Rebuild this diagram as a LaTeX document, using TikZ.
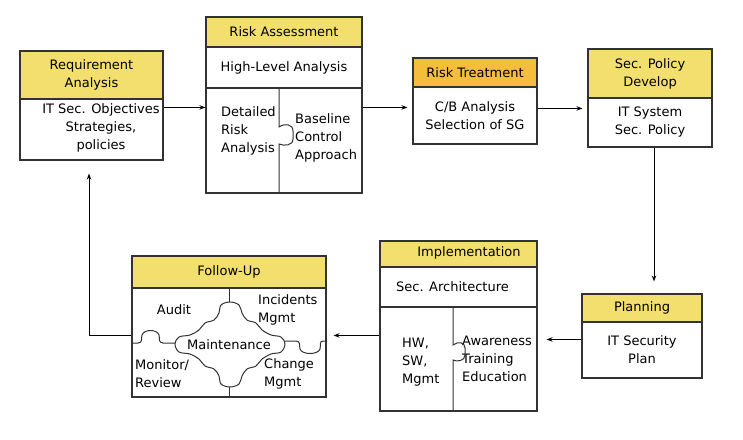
\documentclass[tikz,border=0pt]{standalone}
\usepackage{fontspec}
\setmainfont{DejaVu Sans}
\usepackage{xcolor}
\usepackage{tikz}
\usetikzlibrary{arrows.meta}
\definecolor{headyellow}{RGB}{243,223,110}
\definecolor{headorange}{RGB}{244,190,60}
\definecolor{linegray}{RGB}{50,50,50}

\begin{document}
\begin{tikzpicture}[
      x=1pt, y=-1pt,
      every node/.style={font=\fontsize{13}{18}\selectfont},
      cell/.style={draw=linegray, line width=1.1pt, inner sep=0pt, align=center},
      headcell/.style={cell, fill=headyellow},
      label/.style={inner sep=0pt, align=left, anchor=west},
      puz/.style={draw=linegray, line width=1pt},
      arr/.style={draw=black, line width=1pt, -{Stealth[length=6pt,width=4.5pt]}}]
    \useasboundingbox (0,0) rectangle (743,439);

    % Requirement Analysis
    \node[headcell, minimum width=143pt, minimum height=48pt] (reqhead) at (91.5,75) {Requirement\\Analysis};
    \node[cell, minimum width=143pt, minimum height=61pt] (reqbody) at (91.5,129.5) {};
    \node[inner sep=0pt, align=center] (reqtext) at (101,128) {IT Sec. Objectives\\Strategies,\\policies};

    % Risk Assessment
    \node[headcell, minimum width=156pt, minimum height=30pt] (rashead) at (284,32) {Risk Assessment};
    \node[cell, minimum width=156pt, minimum height=41pt] (rashigh) at (284,67.5) {High-Level Analysis};
    \node[cell, minimum width=156pt, minimum height=105pt] (rasbody) at (284,140.5) {};
    \node[label] (rasdetail) at (221,131) {Detailed\\Risk\\Analysis};
    \node[label] (rasbase) at (295,138) {Baseline\\Control\\Approach};
    \draw[puz] (279,88) -- (279,127) .. controls (285,123) and (293,124) .. (293,131) -- (293,139)
      .. controls (293,146) and (284,146) .. (279,144) -- (279,193);

    % Risk Treatment
    \node[cell, fill=headorange, minimum width=124pt, minimum height=29pt] (rthead) at (475,72.5) {Risk Treatment};
    \node[cell, minimum width=124pt, minimum height=57pt] (rtbody) at (475,115.5) {C/B Analysis\\Selection of SG};

    % Sec. Policy
    \node[headcell, minimum width=124pt, minimum height=49pt] (sphead) at (650,73.5) {Sec. Policy\\Develop};
    \node[cell, minimum width=124pt, minimum height=49pt] (spbody) at (650,122.5) {IT System\\Sec. Policy};

    % Planning
    \node[headcell, minimum width=120pt, minimum height=28pt] (plhead) at (642,308) {Planning};
    \node[cell, minimum width=120pt, minimum height=56pt] (plbody) at (642,350) {IT Security\\Plan};

    % Implementation
    \node[headcell, minimum width=157pt, minimum height=26pt] (imhead) at (458.5,254) {};
    \node[inner sep=0pt] (imtitle) at (469,253) {Implementation};
    \node[cell, minimum width=157pt, minimum height=40pt] (imarch) at (458.5,287) {};
    \node[label] (imarchtext) at (396,287) {Sec. Architecture};
    \node[cell, minimum width=157pt, minimum height=104pt] (imbody) at (458.5,359) {};
    \node[label] (imhw) at (402,362) {HW,\\SW,\\Mgmt};
    \node[label] (imaware) at (462,359) {Awareness\\Training\\Education};
    \draw[puz] (453,307) -- (453,345) .. controls (458,341) and (465,342) .. (465,348) -- (465,355)
      .. controls (465,361) and (457,362) .. (453,360) -- (453,411);

    % Follow-Up
    \node[headcell, minimum width=194pt, minimum height=32pt] (fuhead) at (229,272) {Follow-Up};
    \node[cell, minimum width=194pt, minimum height=109pt] (fubody) at (229,342.5) {};
    \draw[puz] (229,288) -- (229,303);
    \draw[puz] (229,386) -- (229,397);
    \draw[puz] (132,343) -- (138,343) .. controls (143,343) and (141,338) .. (142,335)
      .. controls (144,329) and (157,329) .. (159,335) .. controls (160,338) and (158,343) .. (163,343) -- (176,343);
    \draw[puz] (284,341) -- (296,341) .. controls (301,341) and (299,346) .. (300,349)
      .. controls (302,355) and (318,355) .. (320,349) .. controls (321,346) and (319,341) .. (323,341) -- (326,341);
    \draw[puz, fill=white] plot[smooth cycle, tension=0.6] coordinates {
      (175,344) (179,337) (190,335) (199,330) (205,323) (214,320) (219,313) (221,305)
      (230,302) (239,305) (242,313) (247,320) (256,323) (262,330) (271,335) (281,337)
      (285,344) (281,352) (271,354) (262,359) (256,366) (247,369) (242,376) (239,384)
      (230,387) (221,384) (219,376) (214,369) (205,366) (199,359) (190,354) (179,352)};
    \node[inner sep=0pt] (fumaint) at (229,345) {Maintenance};
    \node[inner sep=0pt] (fuaudit) at (174,310) {Audit};
    \node[label] (fuincid) at (258,310) {Incidents\\Mgmt};
    \node[label] (fumonitor) at (135,374) {Monitor/\\Review};
    \node[label] (fuchange) at (264,374) {Change\\Mgmt};

    % connectors
    \draw[arr] ([yshift=-9pt]reqbody.north east) -- ([yshift=-9pt]reqbody.north east -| rasbody.west);
    \draw[arr, shorten >=5pt] ([yshift=-20pt]rasbody.north east) -- ([yshift=-20pt]rasbody.north east -| rtbody.west);
    \draw[arr, shorten >=5pt] ([yshift=-22pt]rtbody.north east) -- ([yshift=-22pt]rtbody.north east -| spbody.west);
    \draw[arr, shorten >=12pt] ([xshift=4pt]spbody.south) -- ([xshift=4pt]spbody.south |- plhead.north);
    \draw[arr, shorten >=9pt] ([yshift=-18pt]plbody.north west) -- ([yshift=-18pt]plbody.north west -| imbody.east);
    \draw[arr, shorten >=7pt] ([yshift=-29pt]imbody.north west) -- ([yshift=-29pt]imbody.north west -| fubody.east);
    \draw[arr, shorten >=13pt] ([yshift=-48pt]fubody.north west) -| ([xshift=-2.5pt]reqbody.south);
  \end{tikzpicture}
\end{document}
